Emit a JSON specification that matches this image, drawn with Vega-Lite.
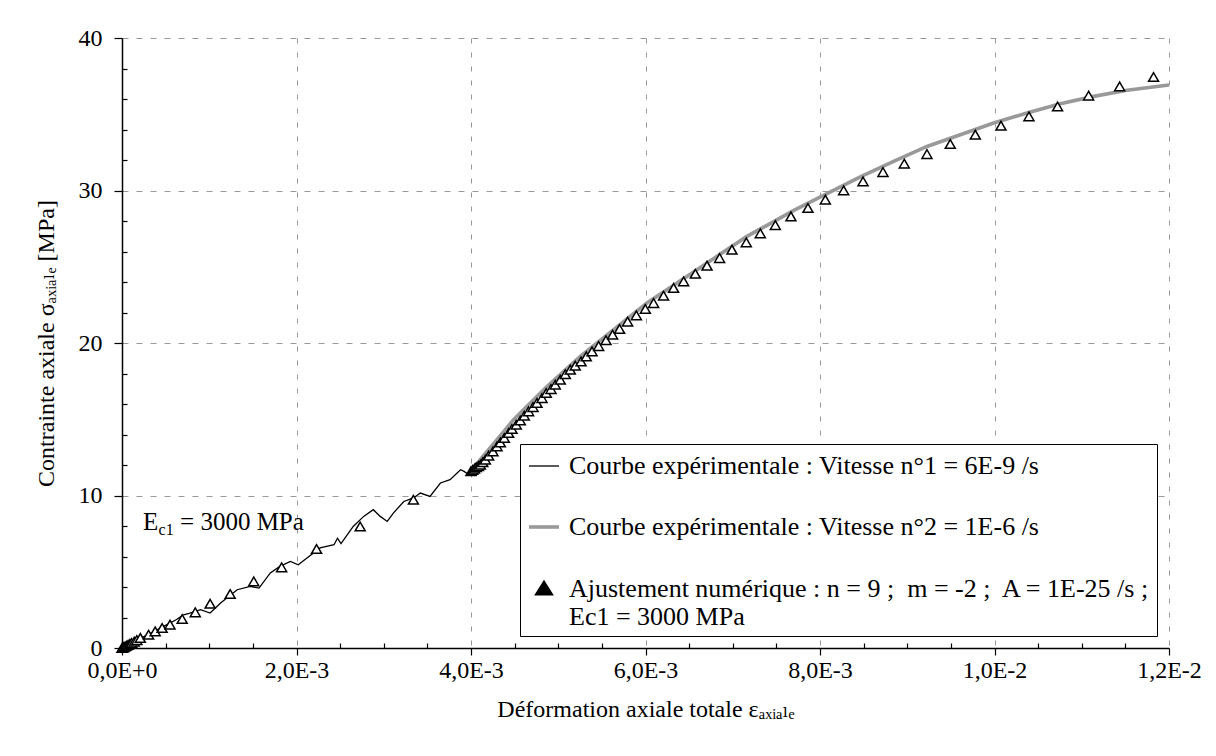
{
  "$schema": "https://vega.github.io/schema/vega-lite/v6.json",
  "width": 1047,
  "height": 610,
  "autosize": {"type": "none"},
  "padding": {"left": 122, "top": 38, "right": 47, "bottom": 108},
  "background": "white",
  "config": {"view": {"stroke": null}, "font": "'Liberation Serif', 'Times New Roman', 'DejaVu Serif', serif"},
  "datasets": {
    "curves": [
      {"series": "V1", "strain": 0, "stress": 0},
      {"series": "V1", "strain": 0.00005, "stress": 0.12},
      {"series": "V1", "strain": 0.0001, "stress": 0.28},
      {"series": "V1", "strain": 0.0002, "stress": 0.6},
      {"series": "V1", "strain": 0.00035, "stress": 1.02},
      {"series": "V1", "strain": 0.000516, "stress": 1.53},
      {"series": "V1", "strain": 0.00062, "stress": 1.85},
      {"series": "V1", "strain": 0.000706, "stress": 2.18},
      {"series": "V1", "strain": 0.00078, "stress": 2.29},
      {"series": "V1", "strain": 0.0009, "stress": 2.51},
      {"series": "V1", "strain": 0.00101, "stress": 2.29},
      {"series": "V1", "strain": 0.00113, "stress": 2.95},
      {"series": "V1", "strain": 0.00132, "stress": 3.82},
      {"series": "V1", "strain": 0.00147, "stress": 4.04},
      {"series": "V1", "strain": 0.00157, "stress": 3.93},
      {"series": "V1", "strain": 0.0017, "stress": 4.92},
      {"series": "V1", "strain": 0.00181, "stress": 5.35},
      {"series": "V1", "strain": 0.00193, "stress": 5.68},
      {"series": "V1", "strain": 0.00202, "stress": 5.46},
      {"series": "V1", "strain": 0.00212, "stress": 5.9},
      {"series": "V1", "strain": 0.00227, "stress": 6.56},
      {"series": "V1", "strain": 0.00243, "stress": 6.77},
      {"series": "V1", "strain": 0.00247, "stress": 7.2},
      {"series": "V1", "strain": 0.00251, "stress": 6.85},
      {"series": "V1", "strain": 0.00265, "stress": 7.97},
      {"series": "V1", "strain": 0.00277, "stress": 8.63},
      {"series": "V1", "strain": 0.00288, "stress": 9.07},
      {"series": "V1", "strain": 0.00296, "stress": 8.63},
      {"series": "V1", "strain": 0.00304, "stress": 8.3},
      {"series": "V1", "strain": 0.00311, "stress": 8.85},
      {"series": "V1", "strain": 0.00323, "stress": 9.61},
      {"series": "V1", "strain": 0.00334, "stress": 9.84},
      {"series": "V1", "strain": 0.00342, "stress": 10.16},
      {"series": "V1", "strain": 0.00353, "stress": 9.94},
      {"series": "V1", "strain": 0.00365, "stress": 10.82},
      {"series": "V1", "strain": 0.00376, "stress": 11.04},
      {"series": "V1", "strain": 0.00388, "stress": 11.69},
      {"series": "V1", "strain": 0.00392, "stress": 11.58},
      {"series": "V1", "strain": 0.00396, "stress": 11.43},
      {"series": "V1", "strain": 0.004, "stress": 11.55},
      {"series": "V2", "strain": 0.004, "stress": 11.55},
      {"series": "V2", "strain": 0.004107, "stress": 12.35},
      {"series": "V2", "strain": 0.004298, "stress": 13.66},
      {"series": "V2", "strain": 0.004488, "stress": 14.97},
      {"series": "V2", "strain": 0.00468, "stress": 16.07},
      {"series": "V2", "strain": 0.004871, "stress": 17.15},
      {"series": "V2", "strain": 0.005253, "stress": 19.12},
      {"series": "V2", "strain": 0.005635, "stress": 20.87},
      {"series": "V2", "strain": 0.006017, "stress": 22.62},
      {"series": "V2", "strain": 0.00659, "stress": 24.81},
      {"series": "V2", "strain": 0.007163, "stress": 26.99},
      {"series": "V2", "strain": 0.0077, "stress": 28.7},
      {"series": "V2", "strain": 0.00808, "stress": 29.79},
      {"series": "V2", "strain": 0.008462, "stress": 30.89},
      {"series": "V2", "strain": 0.008844, "stress": 31.91},
      {"series": "V2", "strain": 0.009226, "stress": 32.89},
      {"series": "V2", "strain": 0.009608, "stress": 33.66},
      {"series": "V2", "strain": 0.00999, "stress": 34.43},
      {"series": "V2", "strain": 0.010372, "stress": 35.08},
      {"series": "V2", "strain": 0.010754, "stress": 35.69},
      {"series": "V2", "strain": 0.011136, "stress": 36.17},
      {"series": "V2", "strain": 0.011518, "stress": 36.57},
      {"series": "V2", "strain": 0.012, "stress": 36.92}
    ],
    "fit": [
      {"strain": 0, "stress": 0},
      {"strain": 0.00001, "stress": 0.03},
      {"strain": 0.00002, "stress": 0.06},
      {"strain": 0.000035, "stress": 0.1},
      {"strain": 0.00005, "stress": 0.15},
      {"strain": 0.00007, "stress": 0.21},
      {"strain": 0.00009, "stress": 0.27},
      {"strain": 0.00011, "stress": 0.33},
      {"strain": 0.00014, "stress": 0.42},
      {"strain": 0.00017, "stress": 0.52},
      {"strain": 0.00021, "stress": 0.66},
      {"strain": 0.000305, "stress": 0.87},
      {"strain": 0.00038, "stress": 1.09},
      {"strain": 0.00046, "stress": 1.31},
      {"strain": 0.00055, "stress": 1.53},
      {"strain": 0.00069, "stress": 1.9},
      {"strain": 0.00084, "stress": 2.34},
      {"strain": 0.00101, "stress": 2.9},
      {"strain": 0.00124, "stress": 3.54},
      {"strain": 0.00151, "stress": 4.37},
      {"strain": 0.00183, "stress": 5.29},
      {"strain": 0.00223, "stress": 6.49},
      {"strain": 0.00273, "stress": 7.97},
      {"strain": 0.00334, "stress": 9.72},
      {"strain": 0.004, "stress": 11.6},
      {"strain": 0.00402, "stress": 11.68},
      {"strain": 0.00404, "stress": 11.76},
      {"strain": 0.00406, "stress": 11.85},
      {"strain": 0.004085, "stress": 11.93},
      {"strain": 0.004107, "stress": 12.02},
      {"strain": 0.004135, "stress": 12.18},
      {"strain": 0.004164, "stress": 12.35},
      {"strain": 0.004202, "stress": 12.61},
      {"strain": 0.004252, "stress": 12.89},
      {"strain": 0.004298, "stress": 13.22},
      {"strain": 0.004336, "stress": 13.48},
      {"strain": 0.004382, "stress": 13.77},
      {"strain": 0.004431, "stress": 14.1},
      {"strain": 0.00447, "stress": 14.36},
      {"strain": 0.004519, "stress": 14.64},
      {"strain": 0.004565, "stress": 14.92},
      {"strain": 0.004611, "stress": 15.23},
      {"strain": 0.00466, "stress": 15.52},
      {"strain": 0.004711, "stress": 15.8},
      {"strain": 0.004756, "stress": 16.07},
      {"strain": 0.004814, "stress": 16.39},
      {"strain": 0.004863, "stress": 16.72},
      {"strain": 0.004917, "stress": 16.98},
      {"strain": 0.004966, "stress": 17.27},
      {"strain": 0.005023, "stress": 17.59},
      {"strain": 0.005081, "stress": 17.95},
      {"strain": 0.005138, "stress": 18.25},
      {"strain": 0.005195, "stress": 18.51},
      {"strain": 0.005261, "stress": 18.79},
      {"strain": 0.005321, "stress": 19.12},
      {"strain": 0.005387, "stress": 19.45},
      {"strain": 0.005463, "stress": 19.8},
      {"strain": 0.005547, "stress": 20.18},
      {"strain": 0.005623, "stress": 20.54},
      {"strain": 0.005703, "stress": 20.92},
      {"strain": 0.005795, "stress": 21.4},
      {"strain": 0.005895, "stress": 21.81},
      {"strain": 0.005998, "stress": 22.23},
      {"strain": 0.006093, "stress": 22.62},
      {"strain": 0.006207, "stress": 23.1},
      {"strain": 0.006322, "stress": 23.61},
      {"strain": 0.006437, "stress": 24.04},
      {"strain": 0.006571, "stress": 24.54},
      {"strain": 0.006705, "stress": 25.07},
      {"strain": 0.006849, "stress": 25.57},
      {"strain": 0.006991, "stress": 26.12},
      {"strain": 0.007155, "stress": 26.6},
      {"strain": 0.007316, "stress": 27.19},
      {"strain": 0.007488, "stress": 27.73},
      {"strain": 0.007667, "stress": 28.3},
      {"strain": 0.007862, "stress": 28.85},
      {"strain": 0.008061, "stress": 29.4},
      {"strain": 0.008271, "stress": 30.01},
      {"strain": 0.008493, "stress": 30.6},
      {"strain": 0.008722, "stress": 31.21},
      {"strain": 0.008966, "stress": 31.76},
      {"strain": 0.009226, "stress": 32.39},
      {"strain": 0.009493, "stress": 33.05},
      {"strain": 0.00978, "stress": 33.66},
      {"strain": 0.010074, "stress": 34.25},
      {"strain": 0.010395, "stress": 34.86},
      {"strain": 0.010723, "stress": 35.51},
      {"strain": 0.011079, "stress": 36.22},
      {"strain": 0.011434, "stress": 36.83},
      {"strain": 0.011823, "stress": 37.44}
    ]
  },
  "layer": [
    {
      "data": {"name": "curves"},
      "mark": {"type": "line", "clip": false},
      "encoding": {
        "x": {
          "field": "strain", "type": "quantitative",
          "scale": {"domain": [0, 0.012], "nice": false, "zero": true},
          "axis": {
            "values": [0, 0.0005, 0.001, 0.0015, 0.002, 0.0025, 0.003, 0.0035, 0.004, 0.0045, 0.005, 0.0055, 0.006, 0.0065, 0.007, 0.0075, 0.008, 0.0085, 0.009, 0.0095, 0.01, 0.0105, 0.011, 0.0115, 0.012],
            "tickCount": 40,
            "labelExpr": "round(datum.value*2000) % 4 == 0 ? ['0,0E+0','2,0E-3','4,0E-3','6,0E-3','8,0E-3','1,0E-2','1,2E-2'][round(datum.value*500)] : ''",
            "title": "Déformation axiale totale εₐₓᵢₐₗₑ",
            "domainColor": "black", "domainWidth": 1.5,
            "tickColor": "black", "tickWidth": 1.2,
            "tickSize": {"condition": {"test": "round(datum.value*2000) % 4 != 0", "value": -5}, "value": 7},
            "grid": true, "gridColor": "#999999", "gridDash": [5, 9], "gridWidth": 1,
            "gridOpacity": {"condition": {"test": "round(datum.value*2000) % 4 != 0", "value": 0}, "value": 1},
            "labelFont": "'Liberation Serif', 'Times New Roman', 'DejaVu Serif', serif", "labelFontSize": 24, "labelColor": "black", "labelPadding": 3,
            "labelFlush": false, "labelOverlap": false,
            "titleFont": "'Liberation Serif', 'Times New Roman', 'DejaVu Serif', serif", "titleFontSize": 24, "titleFontWeight": "normal", "titleColor": "black", "titlePadding": 15
          }
        },
        "y": {
          "field": "stress", "type": "quantitative",
          "scale": {"domain": [0, 40], "nice": false},
          "axis": {
            "values": [0, 2, 4, 6, 8, 10, 12, 14, 16, 18, 20, 22, 24, 26, 28, 30, 32, 34, 36, 38, 40],
            "tickCount": 40,
            "labelExpr": "indexof([0, 10, 20, 30, 40], round(datum.value)) >= 0 ? datum.label : ''",
            "title": "Contrainte axiale σₐₓᵢₐₗₑ [MPa]",
            "domainColor": "black", "domainWidth": 1.5,
            "tickColor": "black", "tickWidth": 1.2,
            "tickSize": {"condition": {"test": "indexof([0, 10, 20, 30, 40], round(datum.value)) < 0", "value": -5}, "value": 8},
            "grid": true, "gridColor": "#999999", "gridDash": [6, 8], "gridWidth": 1,
            "gridOpacity": {"condition": {"test": "indexof([0, 10, 20, 30, 40], round(datum.value)) < 0", "value": 0}, "value": 1},
            "labelFont": "'Liberation Serif', 'Times New Roman', 'DejaVu Serif', serif", "labelFontSize": 24, "labelColor": "black", "labelPadding": 12,
            "labelOverlap": false, "labelFlush": false,
            "titleFont": "'Liberation Serif', 'Times New Roman', 'DejaVu Serif', serif", "titleFontSize": 24, "titleFontWeight": "normal", "titleColor": "black", "titlePadding": 20
          }
        },
        "color": {
          "field": "series", "type": "nominal",
          "scale": {"domain": ["V1", "V2", "T"], "range": ["#000000", "#999999", "#000000"]},
          "legend": {
            "orient": "none", "legendX": 398, "legendY": 406,
            "title": null,
            "strokeColor": "black", "fillColor": "white", "padding": 6,
            "labelFont": "'Liberation Serif', 'Times New Roman', 'DejaVu Serif', serif", "labelFontSize": 26, "labelColor": "black",
            "labelLimit": 2000, "labelOffset": 7,
            "symbolType": "stroke", "symbolSize": 900,
            "rowPadding": 31,
            "labelExpr": "datum.value == 'V1' ? 'Courbe expérimentale : Vitesse n°1 = 6E-9 /s' : datum.value == 'V2' ? 'Courbe expérimentale : Vitesse n°2 = 1E-6 /s' : ['Ajustement numérique : n = 9 ;\u00a0 m = -2 ;\u00a0 A = 1E-25 /s ;', 'Ec1 = 3000 MPa']",
            "encode": {
              "symbols": {"update": {
                "shape": {"signal": "datum.value == 'T' ? 'M0,-0.8L1,0.8L-1,0.8ZM0,-0.385L-0.603,0.58L0.603,0.58Z' : 'stroke'"},
                "size": {"signal": "datum.value == 'T' ? 81 : 900"},
                "strokeWidth": {"signal": "datum.value == 'V2' ? 6 : datum.value == 'T' ? 0 : 1.5"}
              }}
            }
          }
        },
        "strokeWidth": {
          "field": "series", "type": "nominal",
          "scale": {"domain": ["V1", "V2", "T"], "range": [1.3, 6, 1.5]},
          "legend": null
        }
      }
    },
    {
      "data": {"name": "fit"},
      "mark": {"type": "point", "shape": "triangle-up", "size": 100, "filled": true, "fill": "white", "stroke": "black", "strokeWidth": 1.5, "opacity": 1, "clip": false},
      "encoding": {
        "x": {"field": "strain", "type": "quantitative"},
        "y": {"field": "stress", "type": "quantitative"}
      }
    },
    {
      "mark": {"type": "rule", "color": "#888888", "strokeWidth": 1},
      "encoding": {"x": {"datum": 0.012, "type": "quantitative"}}
    },
    {
      "data": {"values": [{"label": "E"}]},
      "mark": {"type": "text", "align": "left", "baseline": "alphabetic", "font": "'Liberation Serif', 'Times New Roman', 'DejaVu Serif', serif", "fontSize": 25, "color": "black"},
      "encoding": {
        "x": {"datum": 0.000241, "type": "quantitative"},
        "y": {"datum": 7.76, "type": "quantitative"},
        "text": {"field": "label"}
      }
    },
    {
      "data": {"values": [{"label": "c1"}]},
      "mark": {"type": "text", "align": "left", "baseline": "alphabetic", "font": "'Liberation Serif', 'Times New Roman', 'DejaVu Serif', serif", "fontSize": 16, "color": "black", "dx": 15.5, "dy": 5},
      "encoding": {
        "x": {"datum": 0.000241, "type": "quantitative"},
        "y": {"datum": 7.76, "type": "quantitative"},
        "text": {"field": "label"}
      }
    },
    {
      "data": {"values": [{"label": "= 3000 MPa"}]},
      "mark": {"type": "text", "align": "left", "baseline": "alphabetic", "font": "'Liberation Serif', 'Times New Roman', 'DejaVu Serif', serif", "fontSize": 25, "color": "black", "dx": 37},
      "encoding": {
        "x": {"datum": 0.000241, "type": "quantitative"},
        "y": {"datum": 7.76, "type": "quantitative"},
        "text": {"field": "label"}
      }
    }
  ]
}
